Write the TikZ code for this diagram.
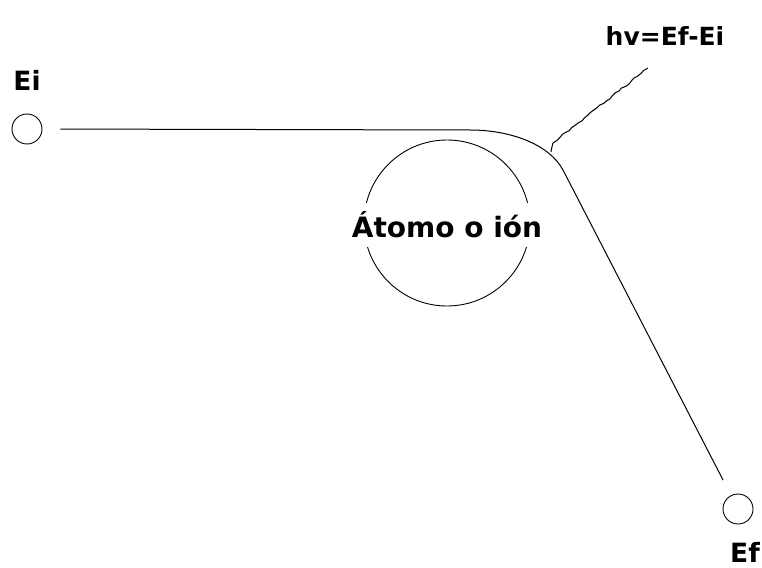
\documentclass[tikz,border=0pt]{standalone}
\usepackage{fontspec}
\setmainfont{DejaVu Sans}
\usepackage{tikz}
\usetikzlibrary{decorations.pathmorphing}

\tikzset{
  level/.style={draw,circle,minimum size=30pt,inner sep=0pt,line width=0.9pt},
  lab/.style={font=\bfseries\fontsize{26.5}{30}\selectfont,inner sep=0pt},
  photon/.style={line width=1pt,decorate,decoration={random steps,segment length=4pt,amplitude=0.9pt}}
}

\begin{document}
\begin{tikzpicture}[x=1pt,y=-1pt]
  \pgfmathsetseed{7}
  \useasboundingbox (0,0) rectangle (762,567);
  % initial and final states
  \node[level] (ei) at (27,129) {};
  \node[lab] (eilab) at (27,80) {Ei};
  \node[level] (ef) at (738,509) {};
  \node[lab] (eflab) at (745,552) {Ef};
  % atom
  \node[draw,circle,minimum size=166pt,line width=0.9pt] (atom) at (447,223) {};
  \node[lab,font=\bfseries\fontsize{28}{30}\selectfont,fill=white,inner ysep=9pt] (atomlab) at (447,225) {Átomo o ión};
  % electron path bending round the atom
  \coordinate (bendin) at (470,130);
  \coordinate (bendout) at (563,170);
  \draw[line width=1pt,shorten <=18pt,shorten >=17pt]
    (ei.east) -- (bendin) .. controls (510,130) and (549,144) .. (bendout) -- (ef);
  % emitted photon
  \coordinate (emit) at (551,152);
  \coordinate (photonend) at (648,68);
  \node[lab,font=\bfseries\fontsize{25}{30}\selectfont] (hv) at (665,36) {hv=Ef-Ei};
  \draw[photon] (emit) -- (553,143) -- (photonend);
\end{tikzpicture}
\end{document}
